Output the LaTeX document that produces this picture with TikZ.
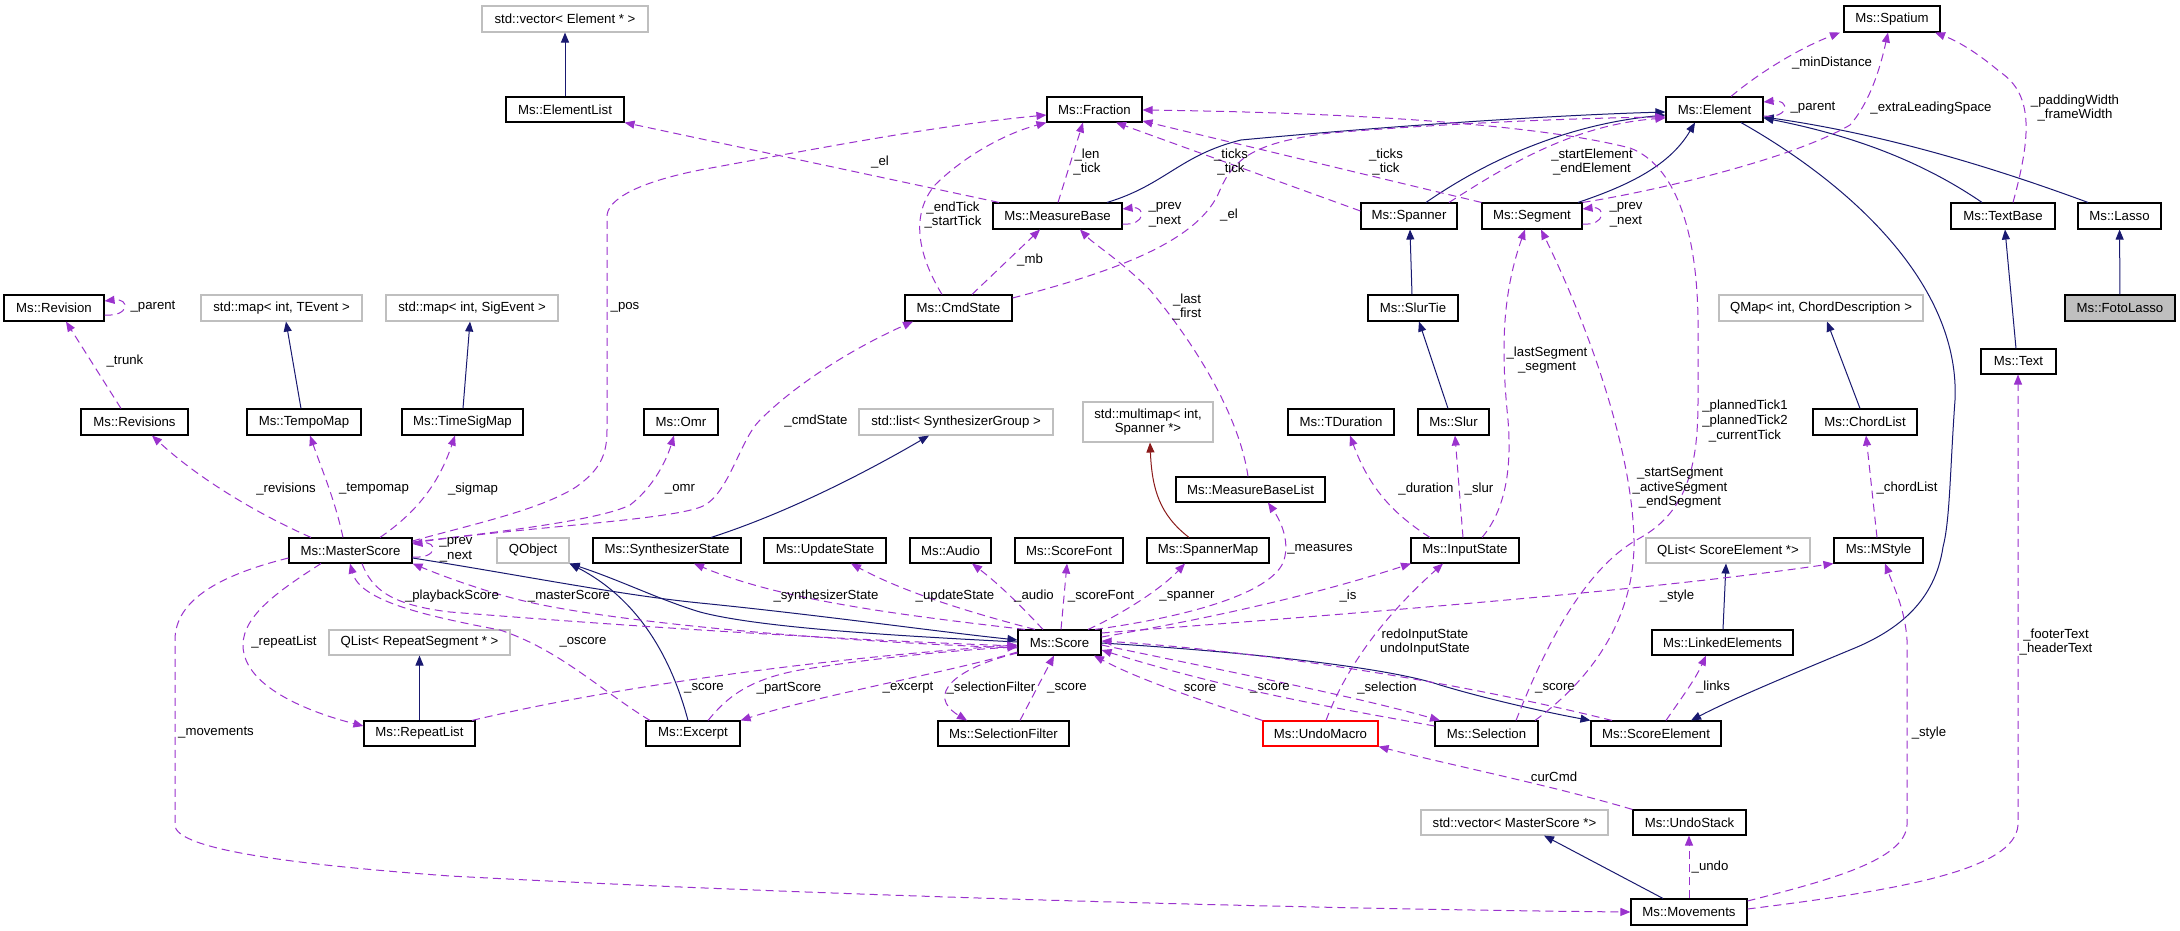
\documentclass[tikz,border=0pt]{standalone}
\usepackage{fontspec}
\setmainfont{Liberation Sans}
\usetikzlibrary{arrows.meta}
\definecolor{navy}{HTML}{191970}
\definecolor{orchid}{HTML}{9A32CD}
\definecolor{firebrick}{HTML}{8B1A1A}
\definecolor{boxgray}{HTML}{BFBFBF}
\newcommand\lab{\fontsize{13.2}{14.6}\selectfont}
\newcommand\bx[7][]{\node[box,#1,minimum width={(#5)-(#3)},minimum height={(#6)-(#4)}] (#2) at ({((#3)+(#5))/2},{((#4)+(#6))/2}) {#7};}
\tikzset{
 box/.style={draw=black, line width=1.1pt, inner sep=0pt, font=\lab, fill=white, align=center},
 gbox/.style={draw=boxgray},
 inh/.style={draw=navy, line width=1pt, -{Triangle[length=10pt,width=8pt]}},
 usee/.style={draw=orchid, line width=1pt, dash pattern=on 8pt off 5pt, -{Triangle[length=10pt,width=8pt]}},
 lbl/.style={font=\lab, align=center, inner sep=0pt},
}
\begin{document}
\begin{tikzpicture}[x=1pt,y=-1pt]
\fill[white] (0,0) rectangle (2180,931);
\useasboundingbox (0,0) rectangle (2180,931);
% ---------- nodes ----------
\bx[gbox]{vecEl}{482}{6}{648}{32}{std::vector< Element * >}
\bx{elist}{506}{97}{624}{122}{Ms::ElementList}
\bx{revision}{4}{295}{104}{321}{Ms::Revision}
\bx[gbox]{mapT}{201}{295}{362}{321}{std::map< int, TEvent >}
\bx[gbox]{mapS}{386}{295}{558}{321}{std::map< int, SigEvent >}
\bx{revisions}{81}{409}{188}{435}{Ms::Revisions}
\bx{tempomap}{247}{409}{361}{435}{Ms::TempoMap}
\bx{timesig}{402}{409}{523}{435}{Ms::TimeSigMap}
\bx{master}{289}{538}{412}{563}{Ms::MasterScore}
\bx[gbox]{qobject}{497}{538}{569}{563}{QObject}
\bx{fraction}{1047}{97}{1142}{122}{Ms::Fraction}
\bx{mbase}{993}{203}{1122}{229}{Ms::MeasureBase}
\bx{cmdstate}{905}{295}{1012}{321}{Ms::CmdState}
\bx{spanner}{1361}{203}{1457}{229}{Ms::Spanner}
\bx{segment}{1482}{203}{1582}{229}{Ms::Segment}
\bx{slurtie}{1368}{295}{1458}{321}{Ms::SlurTie}
\bx{spatium}{1844}{6}{1940}{32}{Ms::Spatium}
\bx{element}{1666}{97}{1763}{122}{Ms::Element}
\bx{textbase}{1951}{203}{2055}{229}{Ms::TextBase}
\bx{lasso}{2078}{203}{2161}{229}{Ms::Lasso}
\bx[gbox]{qmap}{1719}{295}{1923}{321}{QMap< int, ChordDescription >}
\bx[fill=boxgray]{foto}{2065}{295}{2175}{321}{Ms::FotoLasso}
\bx{text}{1981}{349}{2056}{374}{Ms::Text}
\bx{chordlist}{1813}{409}{1917}{435}{Ms::ChordList}
\bx[gbox]{qlistSE}{1646}{538}{1810}{563}{QList< ScoreElement *>}
\bx{mstyle}{1834}{538}{1923}{563}{Ms::MStyle}
\bx{omr}{644}{409}{718}{435}{Ms::Omr}
\bx[gbox]{stdlist}{859}{409}{1053}{435}{std::list< SynthesizerGroup >}
\bx{synth}{593}{538}{741}{563}{Ms::SynthesizerState}
\bx{update}{764}{538}{886}{563}{Ms::UpdateState}
\bx{audio}{910}{538}{991}{563}{Ms::Audio}
\bx{scorefont}{1015}{538}{1123}{563}{Ms::ScoreFont}
\bx[gbox]{multimap}{1083}{402}{1213}{442}{std::multimap< int,\\ Spanner *>}
\bx{mblist}{1176}{477}{1325}{502}{Ms::MeasureBaseList}
\bx{tduration}{1288}{409}{1394}{435}{Ms::TDuration}
\bx{slur}{1418}{409}{1489}{435}{Ms::Slur}
\bx{spannermap}{1147}{538}{1269}{563}{Ms::SpannerMap}
\bx{inputstate}{1411}{538}{1519}{563}{Ms::InputState}
\bx{score}{1018}{630}{1101}{655}{Ms::Score}
\bx{excerpt}{646}{721}{740}{746}{Ms::Excerpt}
\bx{selfilter}{938}{721}{1069}{746}{Ms::SelectionFilter}
\bx[gbox]{qlistRS}{329}{630}{510}{655}{QList< RepeatSegment * >}
\bx{repeatlist}{364}{721}{475}{746}{Ms::RepeatList}
\bx[draw=red]{undomacro}{1263}{721}{1378}{746}{Ms::UndoMacro}
\bx{selection}{1435}{721}{1538}{746}{Ms::Selection}
\bx{scoreelem}{1591}{721}{1721}{746}{Ms::ScoreElement}
\bx[gbox]{vecMS}{1421}{810}{1608}{835}{std::vector< MasterScore *>}
\bx{undostack}{1633}{810}{1746}{835}{Ms::UndoStack}
\bx{movements}{1631}{899}{1747}{925}{Ms::Movements}
\bx{linked}{1652}{630}{1793}{655}{Ms::LinkedElements}
% ---------- inheritance ----------
\draw[inh] (elist) -- (vecEl);
\draw[inh] (mbase.north -| 1107,0) .. controls (1165,185) and (1180,155) .. (1241,140) .. controls (1400,125) and (1560,115) .. (element.west |- 0,112);
\draw[inh] (spanner.north -| 1426,0) .. controls (1480,165) and (1560,125) .. (element.west |- 0,115);
\draw[inh] (segment.north -| 1578,0) .. controls (1630,185) and (1670,165) .. (element.south -| 1695,0);
\draw[inh] (textbase.north -| 1982,0) .. controls (1920,160) and (1850,135) .. (element.east |- 0,118);
\draw[inh] (lasso.north -| 2088,0) .. controls (2000,170) and (1890,135) .. (element.east |- 0,117);
\draw[inh] (foto) -- (lasso);
\draw[inh] (slurtie.north -| 1412,0) -- (spanner.south -| 1410,0);
\draw[inh] (slur.north -| 1448,0) -- (slurtie.south -| 1419,0);
\draw[inh] (text.north -| 2016,0) -- (textbase.south -| 2005,0);
\draw[inh] (chordlist.north -| 1860,0) -- (qmap.south -| 1827,0);
\draw[inh] (tempomap.north -| 301,0) -- (mapT.south -| 286,0);
\draw[inh] (timesig.north -| 463,0) -- (mapS.south -| 470,0);
\draw[inh] (synth.north -| 711,0) .. controls (790,512) and (870,470) .. (stdlist.south -| 929,0);
\draw[inh, draw=firebrick] (spannermap.north -| 1189,0) .. controls (1160,515) and (1152,490) .. (multimap.south -| 1150,0);
\draw[inh] (repeatlist) -- (qlistRS);
\draw[inh] (linked.north -| 1723,0) -- (qlistSE.south -| 1726,0);
\draw[inh] (element.south -| 1741,0) .. controls (1860,190) and (1960,290) .. (1955,400) .. controls (1950,470) and (1950,520) .. (1943,547) .. controls (1935,600) and (1900,630) .. (1850,650) .. controls (1790,675) and (1730,700) .. (scoreelem.north -| 1691,0);
\draw[inh] (score.east |- 0,643) .. controls (1250,652) and (1390,668) .. (1440,685) .. controls (1490,700) and (1550,713) .. (scoreelem.north west);
\draw[inh] (master.east |- 0,558) .. controls (520,575) and (620,595) .. (700,603) .. controls (820,615) and (940,632) .. (score.west |- 0,640);
\draw[inh] (score.west |- 0,642) .. controls (900,636) and (760,628) .. (700,612) .. controls (660,600) and (620,580) .. (qobject.south east);
\draw[inh] (excerpt.north -| 688,0) .. controls (672,660) and (640,600) .. (qobject.south east);
\draw[inh] (movements.north -| 1663,0) -- (vecMS.south -| 1544,0);
% ---------- usage ----------
\draw[usee] (element.east |- 0,116) .. controls (1790,119) and (1790,99) .. (element.east |- 0,102);
\draw[usee] (element.north -| 1731,0) .. controls (1760,72) and (1800,48) .. (spatium.south -| 1840,0);
\draw[usee] (segment.north east) .. controls (1650,192) and (1790,160) .. (1850,125) .. controls (1872,100) and (1882,60) .. (spatium.south -| 1888,0);
\draw[usee] (textbase.north -| 2013,0) .. controls (2030,140) and (2035,95) .. (2000,72) .. controls (1980,55) and (1960,42) .. (spatium.south -| 1935,0);
\draw[usee] (mbase.north -| 999,0) -- (elist.south east);
\draw[usee] (master.east |- 0,541) .. controls (470,525) and (540,510) .. (576,487) .. controls (600,470) and (607,455) .. (607,430) -- (607,215) .. controls (610,195) and (650,180) .. (700,170) .. controls (820,148) and (940,125) .. (fraction.west |- 0,115);
\draw[usee] (cmdstate.north -| 942,0) .. controls (918,255) and (910,215) .. (935,185) .. controls (960,160) and (1000,135) .. (fraction.south west);
\draw[usee] (mbase.north -| 1058,0) -- (fraction.south -| 1083,0);
\draw[usee] (mbase.east |- 0,224) .. controls (1146,226) and (1146,206) .. (mbase.east |- 0,209);
\draw[usee] (cmdstate.north -| 972,0) -- (mbase.south -| 1040,0);
\draw[usee] (cmdstate.east |- 0,298) .. controls (1120,270) and (1200,240) .. (1220,190) .. controls (1235,155) and (1260,142) .. (1330,133) .. controls (1450,123) and (1580,118) .. (element.west |- 0,117);
\draw[usee] (spanner.west |- 0,211) -- (fraction.south -| 1116,0);
\draw[usee] (segment.north west) -- (fraction.east |- 0,121);
\draw[usee] (spanner.north -| 1449,0) .. controls (1500,170) and (1570,125) .. (element.west |- 0,118);
\draw[usee] (segment.east |- 0,224) .. controls (1606,226) and (1606,206) .. (segment.east |- 0,209);
\draw[usee] (inputstate.north -| 1482,0) .. controls (1505,510) and (1512,470) .. (1508,420) .. controls (1502,360) and (1500,300) .. (segment.south -| 1525,0);
\draw[usee] (selection.north -| 1535,0) .. controls (1590,680) and (1635,620) .. (1634,540) .. controls (1632,450) and (1590,330) .. (segment.south -| 1541,0);
\draw[usee] (selection.north -| 1516,0) .. controls (1540,660) and (1580,570) .. (1640,538) .. controls (1690,510) and (1698,460) .. (1698,400) -- (1698,320) .. controls (1697,230) and (1675,165) .. (1630,148) .. controls (1520,120) and (1300,112) .. (fraction.east |- 0,110);
\draw[usee] (master.east |- 0,557) .. controls (438,559) and (438,541) .. (master.east |- 0,544);
\draw[usee] (score.west |- 0,648) .. controls (800,640) and (600,620) .. (520,600) .. controls (480,590) and (440,575) .. (master.south east);
\draw[usee] (master.south -| 362,0) .. controls (372,590) and (392,605) .. (450,612) .. controls (650,628) and (850,640) .. (score.west |- 0,646);
\draw[usee] (excerpt.north -| 650,0) .. controls (600,690) and (560,650) .. (500,630) .. controls (420,615) and (360,600) .. (master.south -| 350,0);
\draw[usee] (master.west |- 0,558) .. controls (220,575) and (175,600) .. (175,640) -- (175,825) .. controls (175,850) and (300,865) .. (450,876) .. controls (900,900) and (1400,910) .. (movements.west |- 0,912);
\draw[usee] (master.south -| 321,0) .. controls (280,590) and (243,615) .. (243,645) .. controls (243,690) and (320,715) .. (repeatlist.west |- 0,726);
\draw[usee] (repeatlist.north -| 472,0) .. controls (600,690) and (800,660) .. (score.west |- 0,645);
\draw[usee] (excerpt.north -| 708,0) .. controls (725,700) and (745,680) .. (800,670) .. controls (880,657) and (960,650) .. (score.west |- 0,647);
\draw[usee] (score.west |- 0,652) .. controls (950,672) and (820,695) .. (excerpt.north east);
\draw[usee] (score.west |- 0,653) .. controls (955,668) and (925,695) .. (selfilter.north -| 967,0);
\draw[usee] (selfilter.north -| 1020,0) -- (score.south -| 1054,0);
\draw[usee] (undomacro.north west) .. controls (1200,700) and (1140,680) .. (score.south -| 1094,0);
\draw[usee] (selection.west |- 0,726) .. controls (1330,707) and (1230,690) .. (score.east |- 0,650);
\draw[usee] (score.east |- 0,645) .. controls (1220,670) and (1350,695) .. (selection.north -| 1440,0);
\draw[usee] (scoreelem.north -| 1612,0) .. controls (1450,680) and (1250,650) .. (score.east |- 0,641);
\draw[usee] (scoreelem.north -| 1666,0) .. controls (1680,700) and (1695,680) .. (linked.south -| 1706,0);
\draw[usee] (mstyle.north -| 1877,0) -- (chordlist.south -| 1866,0);
\draw[usee] (movements.east |- 0,901) .. controls (1830,880) and (1905,860) .. (1907,825) -- (1907,640) .. controls (1905,610) and (1895,590) .. (mstyle.south -| 1885,0);
\draw[usee] (movements.east |- 0,909) .. controls (1900,890) and (2015,870) .. (2018,825) -- (text.south -| 2018,0);
\draw[usee] (movements.north -| 1689,0) -- (undostack.south -| 1689,0);
\draw[usee] (undostack.north west) .. controls (1550,785) and (1450,765) .. (undomacro.south east);
\draw[usee] (score.north -| 1025,0) .. controls (900,615) and (780,600) .. (synth.south -| 694,0);
\draw[usee] (score.north -| 1035,0) .. controls (960,610) and (900,590) .. (update.south -| 851,0);
\draw[usee] (score.north -| 1043,0) .. controls (1020,605) and (1000,585) .. (audio.south -| 972,0);
\draw[usee] (score.north -| 1061,0) -- (scorefont.south -| 1067,0);
\draw[usee] (score.north -| 1088,0) .. controls (1120,615) and (1160,590) .. (spannermap.south -| 1185,0);
\draw[usee] (score.north -| 1095,0) .. controls (1200,615) and (1275,590) .. (1284,560) .. controls (1290,540) and (1280,520) .. (mblist.south -| 1268,0);
\draw[usee] (score.east |- 0,637) .. controls (1230,615) and (1330,590) .. (inputstate.south -| 1411,0);
\draw[usee] (undomacro.north -| 1326,0) .. controls (1345,670) and (1380,620) .. (inputstate.south -| 1443,0);
\draw[usee] (score.east |- 0,633) .. controls (1400,610) and (1650,590) .. (mstyle.south west);
\draw[usee] (inputstate.north -| 1430,0) .. controls (1395,515) and (1370,490) .. (tduration.south -| 1350,0);
\draw[usee] (inputstate.north -| 1463,0) -- (slur.south -| 1455,0);
\draw[usee] (mblist.north -| 1248,0) .. controls (1240,420) and (1200,350) .. (1150,290) .. controls (1120,260) and (1095,245) .. (mbase.south -| 1080,0);
\draw[usee] (master.east |- 0,543) .. controls (520,527) and (680,520) .. (705,505) .. controls (730,490) and (740,440) .. (760,420) .. controls (800,380) and (860,345) .. (cmdstate.south -| 913,0);
\draw[usee] (master.east |- 0,542) .. controls (500,532) and (600,520) .. (630,505) .. controls (650,490) and (665,465) .. (omr.south -| 674,0);
\draw[usee] (master.north -| 311,0) .. controls (260,515) and (200,480) .. (revisions.south -| 152,0);
\draw[usee] (master.north -| 343,0) .. controls (335,500) and (322,470) .. (tempomap.south -| 310,0);
\draw[usee] (master.north -| 380,0) .. controls (420,510) and (440,480) .. (timesig.south -| 455,0);
\draw[usee] (revisions.north -| 121,0) -- (revision.south -| 66,0);
\draw[usee] (revision.east |- 0,315) .. controls (130,317) and (130,298) .. (revision.east |- 0,301);
% ---------- labels ----------
\node[lbl] (l1) at (153,307) {\_parent};
\node[lbl] (l2) at (125,361) {\_trunk};
\node[lbl] (l3) at (286,489) {\_revisions};
\node[lbl] (l4) at (374,489) {\_tempomap};
\node[lbl] (l5) at (473,489) {\_sigmap};
\node[lbl] (l6) at (456,550) {\_prev\\\_next};
\node[lbl] (l7) at (452,596) {\_playbackScore};
\node[lbl] (l8) at (569,596) {\_masterScore};
\node[lbl] (l9) at (625,307) {\_pos};
\node[lbl] (l10) at (880,162) {\_el};
\node[lbl] (l11) at (953,215) {\_endTick\\\_startTick};
\node[lbl] (l12) at (1087,162) {\_len\\\_tick};
\node[lbl] (l13) at (1165,215) {\_prev\\\_next};
\node[lbl] (l14) at (1030,260) {\_mb};
\node[lbl] (l15) at (1229,215) {\_el};
\node[lbl] (l16) at (1231,162) {\_ticks\\\_tick};
\node[lbl] (l17) at (1386,162) {\_ticks\\\_tick};
\node[lbl] (l18) at (1592,162) {\_startElement\\\_endElement};
\node[lbl] (l19) at (1626,215) {\_prev\\\_next};
\node[lbl] (l20) at (1813,108) {\_parent};
\node[lbl] (l21) at (1832,63) {\_minDistance};
\node[lbl] (l22) at (1931,108) {\_extraLeadingSpace};
\node[lbl] (l23) at (2075,108) {\_paddingWidth\\\_frameWidth};
\node[lbl] (l24) at (1187,307) {\_last\\\_first};
\node[lbl] (l25) at (816,421) {\_cmdState};
\node[lbl] (l26) at (680,489) {\_omr};
\node[lbl] (l27) at (1547,360) {\_lastSegment\\\_segment};
\node[lbl] (l28) at (1745,421) {\_plannedTick1\\\_plannedTick2\\\_currentTick};
\node[lbl] (l29) at (1680,488) {\_startSegment\\\_activeSegment\\\_endSegment};
\node[lbl] (l30) at (1907,488) {\_chordList};
\node[lbl] (l31) at (1426,489) {\_duration};
\node[lbl] (l32) at (1479,489) {\_slur};
\node[lbl] (l33) at (1320,549) {\_measures};
\node[lbl] (l34) at (826,596) {\_synthesizerState};
\node[lbl] (l35) at (955,596) {\_updateState};
\node[lbl] (l36) at (1034,596) {\_audio};
\node[lbl] (l37) at (1101,596) {\_scoreFont};
\node[lbl] (l38) at (1187,596) {\_spanner};
\node[lbl] (l39) at (1348,596) {\_is};
\node[lbl] (l40) at (1677,596) {\_style};
\node[lbl] (l41) at (583,642) {\_oscore};
\node[lbl] (l42) at (284,642) {\_repeatList};
\node[lbl] (l43) at (704,688) {\_score};
\node[lbl] (l44) at (789,688) {\_partScore};
\node[lbl] (l45) at (908,688) {\_excerpt};
\node[lbl] (l46) at (991,688) {\_selectionFilter};
\node[lbl] (l47) at (1067,688) {\_score};
\node[lbl] (l48) at (1200,688) {score};
\node[lbl] (l49) at (1270,688) {\_score};
\node[lbl] (l50) at (1387,688) {\_selection};
\node[lbl] (l51) at (1555,688) {\_score};
\node[lbl] (l52) at (1425,642) {redoInputState\\undoInputState};
\node[lbl] (l53) at (1713,687) {\_links};
\node[lbl] (l54) at (216,733) {\_movements};
\node[lbl] (l55) at (1554,777) {curCmd};
\node[lbl] (l56) at (1929,733) {\_style};
\node[lbl] (l57) at (2056,642) {\_footerText\\\_headerText};
\node[lbl] (l58) at (1710,867) {\_undo};
\end{tikzpicture}
\end{document}
